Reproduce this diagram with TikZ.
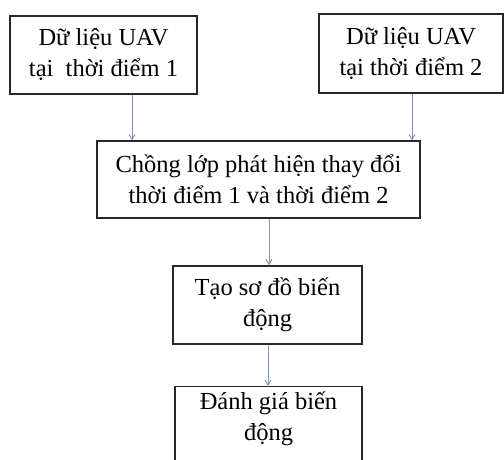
\documentclass[tikz,border=0pt]{standalone}
\usepackage{fontspec}
\setmainfont{Liberation Serif}
\usetikzlibrary{arrows.meta}
\definecolor{arrowcol}{RGB}{128,150,192}
\definecolor{boxline}{RGB}{40,40,40}
\begin{document}
\begin{tikzpicture}[x=1pt,y=1pt,
  box/.style={draw=boxline,line width=1.2pt,fill=white,align=center,inner sep=0pt,
    font=\fontsize{24.5}{31}\selectfont,text=black},
  arr/.style={draw=arrowcol,line width=1pt,-{Straight Barb[length=5pt,width=6pt]}}]
\useasboundingbox (0,0) rectangle (504,459);
\fill[white] (0,0) rectangle (504,459);
\begin{scope}
\clip (0,0) rectangle (504,459);
\node[box,minimum width=187pt,minimum height=78pt] (b1) at (103.5,404) {Dữ liệu UAV\\tại\ \ thời điểm 1};
\node[box,minimum width=184pt,minimum height=79pt] (b2) at (411,405.5) {Dữ liệu UAV\\tại thời điểm 2};
\node[box,minimum width=323pt,minimum height=77pt] (b3) at (258.5,279.5) {Chồng lớp phát hiện thay đổi\\thời điểm 1 và thời điểm 2};
\node[box,minimum width=189pt,minimum height=78pt] (b4) at (267.5,154) {Tạo sơ đồ biến\\động};
\node[box,minimum width=187pt,minimum height=84pt,anchor=north] (b5) at (268.5,73) {};
\node[font=\fontsize{24.5}{31}\selectfont,align=center,anchor=north,inner sep=0pt] (t5) at (268.5,67) {Đánh giá biến\\động};
\end{scope}
\coordinate (x1) at (132,0);
\coordinate (x2) at (412,0);
\coordinate (x3) at (269,0);
\coordinate (x4) at (268,0);
\draw[arr] (b1.south -| x1) -- (b3.north -| x1);
\draw[arr] (b2.south -| x2) -- (b3.north -| x2);
\draw[arr] (b3.south -| x3) -- (b4.north -| x3);
\draw[arr] (b4.south -| x4) -- (b5.north -| x4);
\end{tikzpicture}
\end{document}
